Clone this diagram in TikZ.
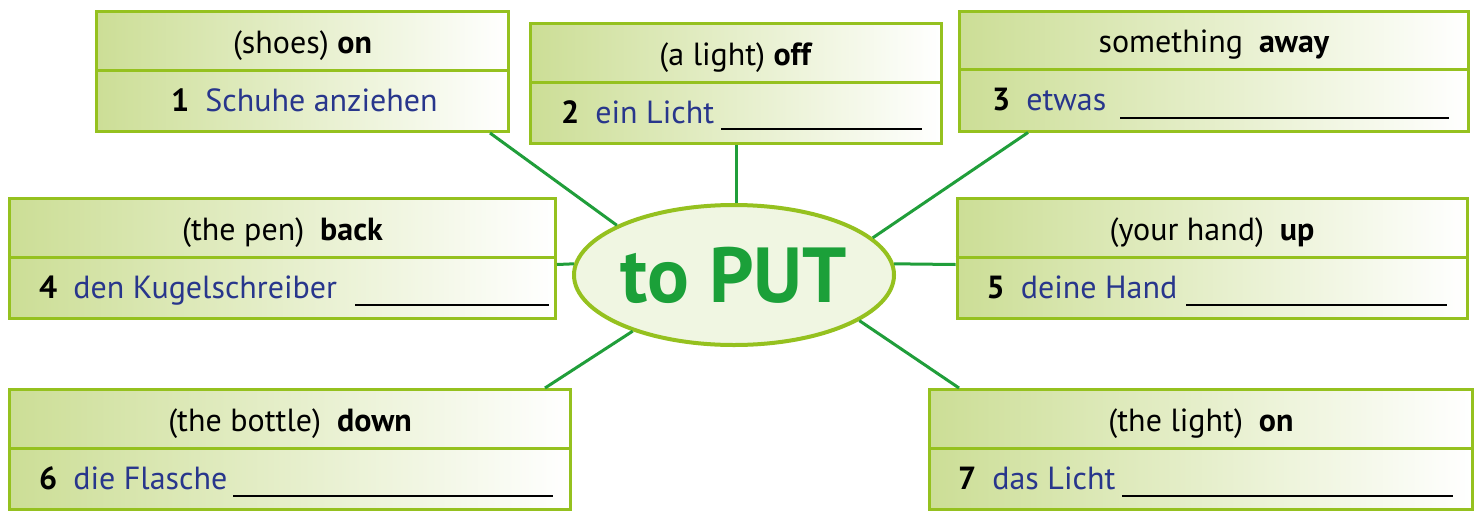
\documentclass[tikz,border=0pt]{standalone}
\usepackage{fontspec}
\setmainfont{PT Sans}
\usetikzlibrary{shapes.geometric}
\definecolor{lime}{RGB}{149,193,31}
\definecolor{boxgreen}{RGB}{204,222,150}
\definecolor{ellfill}{RGB}{240,246,226}
\definecolor{linkgreen}{RGB}{32,158,58}
\definecolor{putgreen}{RGB}{27,160,57}
\definecolor{navy}{RGB}{40,54,140}
\newcommand{\wgap}{\hspace{0.5em}}
\newcommand{\de}[1]{\textcolor{navy}{#1}}

\begin{document}
\begin{tikzpicture}[x=1pt,y=-1pt,
	wordbox/.style={draw=lime,line width=3pt,left color=boxgreen,middle color=boxgreen!30,right color=white,minimum width=#1,minimum height=120pt,inner sep=0pt},
	head/.style={anchor=base,inner sep=0pt,font=\fontsize{32}{36}\selectfont},
	task/.style={anchor=base west,inner sep=0pt,font=\fontsize{32}{36}\selectfont},
	blank/.style={line width=1.3pt},
	link/.style={draw=linkgreen,line width=3pt}]
	\useasboundingbox (0,0) rectangle (1479,517);
	
	\node[wordbox=412] (b1) at (302.5,71.5) {};
	\node[wordbox=411] (b2) at (736,83.5) {};
	\node[wordbox=509] (b3) at (1214,71) {};
	\node[wordbox=546] (b4) at (282.5,258.5) {};
	\node[wordbox=510] (b5) at (1212,258.5) {};
	\node[wordbox=561] (b6) at (290,449.5) {};
	\node[wordbox=543] (b7) at (1201,449.5) {};
	\foreach \b in {b1,b2,b3,b4,b5,b6,b7}
	{
		\draw[lime,line width=3pt] ([yshift=1.5pt]\b.west) -- ([yshift=1.5pt]\b.east);
	}
	
	\node[head] (h1) at ([yshift=-43pt]b1.north) {(shoes) \textbf{on}};
	\node[head] (h2) at ([yshift=-43pt]b2.north) {(a light) \textbf{off}};
	\node[head] (h3) at ([yshift=-43pt]b3.north) {something\wgap\textbf{away}};
	\node[head] (h4) at ([yshift=-43pt]b4.north) {(the pen)\wgap\textbf{back}};
	\node[head] (h5) at ([yshift=-43pt]b5.north) {(your hand)\wgap\textbf{up}};
	\node[head] (h6) at ([yshift=-43pt]b6.north) {(the bottle)\wgap\textbf{down}};
	\node[head] (h7) at ([yshift=-43pt]b7.north) {(the light)\wgap\textbf{on}};
	
	\node[task] (t1) at ([xshift=76pt,yshift=-101pt]b1.north west) {\textbf{1}\wgap\de{Schuhe anziehen}};
	\node[task] (t2) at ([xshift=32pt,yshift=-101pt]b2.north west) {\textbf{2}\wgap\de{ein Licht}};
	\node[task] (t3) at ([xshift=34pt,yshift=-101pt]b3.north west) {\textbf{3}\wgap\de{etwas}};
	\node[task] (t4) at ([xshift=31pt,yshift=-101pt]b4.north west) {\textbf{4}\wgap\de{den Kugelschreiber}};
	\node[task] (t5) at ([xshift=31pt,yshift=-101pt]b5.north west) {\textbf{5}\wgap\de{deine Hand}};
	\node[task] (t6) at ([xshift=31pt,yshift=-101pt]b6.north west) {\textbf{6}\wgap\de{die Flasche}};
	\node[task] (t7) at ([xshift=30pt,yshift=-101pt]b7.north west) {\textbf{7}\wgap\de{das Licht}};
	
	% lines to write on
	\draw[blank] (721,129) -- (922,129);
	\draw[blank] (1120,118) -- (1449,118);
	\draw[blank] (355,305) -- (549,305);
	\draw[blank] (1186,305) -- (1447,305);
	\draw[blank] (233,496) -- (553,496);
	\draw[blank] (1122,496) -- (1453,496);
	
	\node[ellipse,draw=lime,line width=4pt,fill=ellfill,minimum width=308pt,minimum height=140pt,inner sep=0pt] (put) at (734,275) {\fontsize{78}{80}\selectfont\bfseries\color{putgreen}to PUT};
	
	\draw[link] ([xshift=-20pt]b1.south east) -- (put.157);
	\draw[link] (b2.south) -- (b2.south |- put.north);
	\draw[link] ([xshift=70pt]b3.south west) -- (put.15);
	\draw[link] ([yshift=-6pt]b4.east) -- (put.176);
	\draw[link] (put.4) -- ([yshift=-6pt]b5.west);
	\draw[link] ([xshift=-27pt]b6.north east) -- (put.209);
	\draw[link] ([xshift=31pt]b7.north west) -- (put.-20);
	
\end{tikzpicture}
\end{document}
